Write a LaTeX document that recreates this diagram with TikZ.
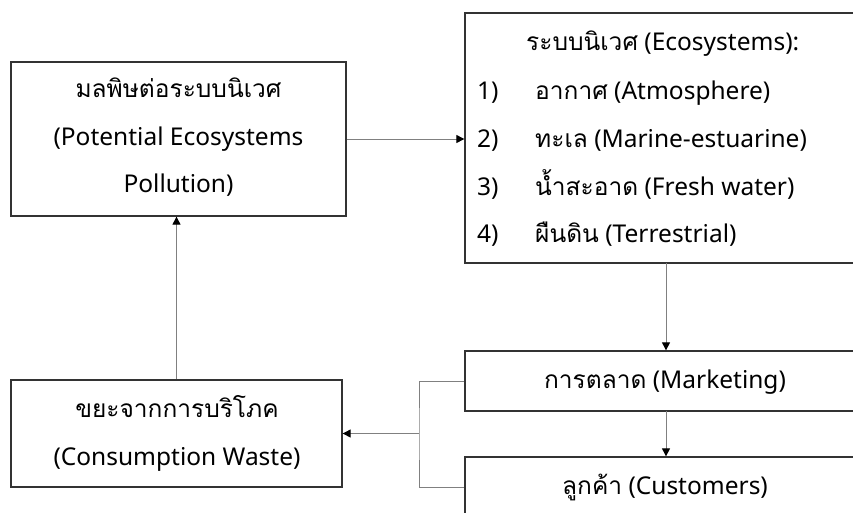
\documentclass[tikz,border=0pt]{standalone}
\usepackage{fontspec}
\setmainfont{Noto Sans}
\newfontfamily\thaifont[Script=Thai]{Loma}
\usetikzlibrary{arrows.meta}
\newcommand{\thtxt}[1]{{\thaifont #1}}
\begin{document}
\begin{tikzpicture}[x=1pt,y=-1pt,
  box/.style={draw=black!80,line width=1.3pt,rectangle,inner sep=0pt},
  conn/.style={draw=black!50,line width=1pt},
  arr/.style={conn,-{Triangle[length=8pt,width=8pt,color=black]}},
  txt/.style={inner sep=0pt,anchor=base,font=\fontsize{24.5}{47}\selectfont},
  ltxt/.style={txt,anchor=base west}]
\clip (0,0) rectangle (853,512);
\fill[white] (0,0) rectangle (853,512);
% boxes
\node[box,minimum width=335pt,minimum height=154pt] (poll) at (178.5,139) {};
\node[box,minimum width=405pt,minimum height=250pt] (eco) at (667.5,138) {};
\node[box,minimum width=405pt,minimum height=60pt] (mark) at (667.5,381) {};
\node[box,minimum width=405pt,minimum height=60pt] (cust) at (667.5,487) {};
\node[box,minimum width=331pt,minimum height=107pt] (waste) at (176.5,433.5) {};
% texts
\node[txt] (p1) at (178.5,97) {\thtxt{มลพิษต่อระบบนิเวศ}};
\node[txt] (p2) at (178.5,145) {(Potential Ecosystems};
\node[txt] (p3) at (178.5,192) {Pollution)};
\node[ltxt] (e0) at (526,50) {\thtxt{ระบบนิเวศ} (Ecosystems):};
\node[ltxt] (n1) at (477,99) {1)};
\node[ltxt] (n2) at (477,147) {2)};
\node[ltxt] (n3) at (477,195) {3)};
\node[ltxt] (n4) at (477,242) {4)};
\node[ltxt] (e1) at (535,99) {\thtxt{อากาศ} (Atmosphere)};
\node[ltxt] (e2) at (535,147) {\thtxt{ทะเล} (Marine-estuarine)};
\node[ltxt] (e3) at (535,195) {\thtxt{น้ำสะอาด} (Fresh water)};
\node[ltxt] (e4) at (535,242) {\thtxt{ผืนดิน} (Terrestrial)};
\node[txt] (m1) at (665,388) {\thtxt{การตลาด} (Marketing)};
\node[txt] (c1) at (665,494) {\thtxt{ลูกค้า} (Customers)};
\node[txt] (w1) at (177,417) {\thtxt{ขยะจากการบริโภค}};
\node[txt] (w2) at (177,465) {(Consumption Waste)};
% connectors
\draw[arr] (poll.east) -- (poll.east -| eco.west);
\coordinate (ecob) at (666,263);
\draw[arr] (ecob) -- (ecob |- mark.north);
\coordinate (markb) at (666,411);
\draw[arr] (markb) -- (markb |- cust.north);
\coordinate (br) at (419,433.5);
\draw[conn] (mark.west) -| (br) |- (cust.west);
\draw[arr] (br) -- (waste.east);
\draw[arr] (waste.north) -- (waste.north |- poll.south);
\end{tikzpicture}
\end{document}
